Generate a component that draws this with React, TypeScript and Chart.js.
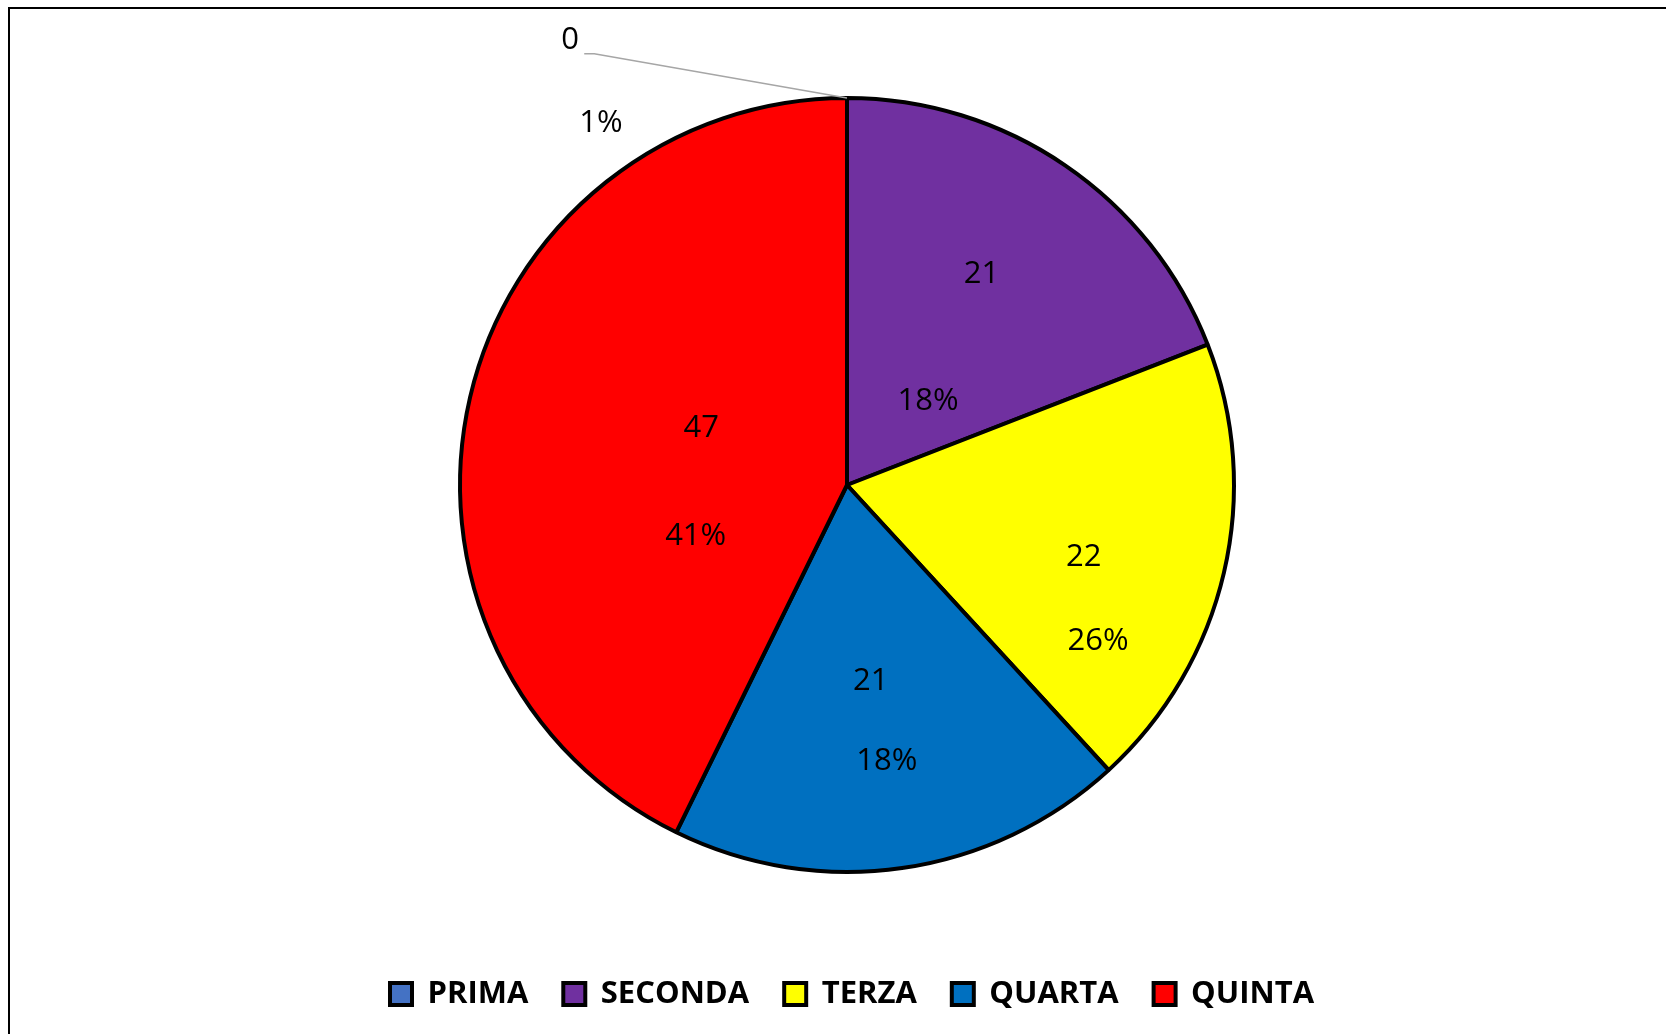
import React, { useEffect, useRef } from "react";
import { Chart, registerables } from "chart.js";

Chart.register(...registerables);

const categories = ["PRIMA", "SECONDA", "TERZA", "QUARTA", "QUINTA"];
// slice sizes as drawn in the picture
const values = [0, 21, 21, 21, 47];
// data label texts as printed on the picture
const valueLabels = ["0", "21", "22", "21", "47"];
const percentLabels = ["1%", "18%", "26%", "18%", "41%"];
const sliceColors = ["#4472C4", "#7030A0", "#FFFF00", "#0070C0", "#FF0000"];

// label placement: [angle offset in degrees from the slice middle, fraction of radius]
const valuePlacement = [
  [-31.7, 1.361],
  [-2.16, 0.652],
  [3.11, 0.637],
  [1.2, 0.503],
  [9.21, 0.407],
];
const percentPlacement = [
  [-34, 1.137],
  [8.64, 0.307],
  [18.31, 0.76],
  [-0.1, 0.714],
  [-30.59, 0.41],
];

const LABEL_FONT = '31px "Open Sans"';
const LABEL_DY = 3;
const LEGEND_SHIFT_X = 5;

const sliceLabelPlugin = {
  id: "sliceLabels",
  afterLayout(chart: any) {
    if (chart.legend) {
      chart.legend.left += LEGEND_SHIFT_X;
      chart.legend.right += LEGEND_SHIFT_X;
    }
  },
  afterDatasetsDraw(chart: any) {
    const ctx = chart.ctx;
    const meta = chart.getDatasetMeta(0);
    ctx.save();
    ctx.font = LABEL_FONT;
    ctx.fillStyle = "#000";
    ctx.textAlign = "center";
    ctx.textBaseline = "middle";
    meta.data.forEach((arc: any, i: number) => {
      const p = arc.getProps(["x", "y", "startAngle", "endAngle", "outerRadius"], true);
      const mid = (p.startAngle + p.endAngle) / 2;
      const pos = (pl: number[]) => {
        const a = mid + (pl[0] * Math.PI) / 180;
        const r = pl[1] * p.outerRadius;
        return [p.x + r * Math.cos(a), p.y + r * Math.sin(a)];
      };
      const [vx, vy] = pos(valuePlacement[i]);
      const [px, py] = pos(percentPlacement[i]);
      if (values[i] === 0) {
        ctx.save();
        ctx.strokeStyle = "#A6A6A6";
        ctx.lineWidth = 1.5;
        ctx.beginPath();
        ctx.moveTo(vx + 14, vy + 17);
        ctx.lineTo(vx + 24, vy + 17);
        ctx.lineTo(p.x + p.outerRadius * Math.cos(mid), p.y + p.outerRadius * Math.sin(mid));
        ctx.stroke();
        ctx.restore();
      }
      ctx.fillText(valueLabels[i], vx, vy + LABEL_DY);
      ctx.fillText(percentLabels[i], px, py + LABEL_DY);
    });
    ctx.restore();
  },
};

export default function App() {
  const canvasRef = useRef<HTMLCanvasElement | null>(null);

  useEffect(() => {
    if (!canvasRef.current) return;
    const chart = new Chart(canvasRef.current, {
      type: "pie",
      data: {
        labels: categories,
        datasets: [
          {
            data: values,
            backgroundColor: sliceColors,
            borderColor: "#000000",
            borderWidth: 4,
          },
        ],
      },
      options: {
        animation: false,
        responsive: false,
        devicePixelRatio: 1,
        radius: 387,
        layout: { padding: { top: 97, left: 28, right: 0, bottom: 14.5 } },
        plugins: {
          tooltip: { enabled: false },
          legend: {
            position: "bottom",
            title: { display: true, text: "", font: { size: 10 }, padding: { top: 58.5, bottom: 0 } },
            labels: {
              boxWidth: 22,
              boxHeight: 22,
              padding: 35,
              color: "#000",
              font: { family: '"Open Sans"', size: 31, weight: "bold" },
            },
          },
        },
      } as any,
      plugins: [sliceLabelPlugin],
    });
    return () => chart.destroy();
  }, []);

  return (
    <div
      style={{
        position: "fixed",
        left: 0,
        top: 0,
        width: 1666,
        height: 1034,
        overflow: "hidden",
        background: "#fff",
      }}
    >
      <canvas
        ref={canvasRef}
        width={1666}
        height={1034}
        style={{ position: "absolute", left: 0, top: 0, width: 1666, height: 1034 }}
      />
      <div
        style={{
          position: "absolute",
          left: 8,
          top: 7,
          width: 1700,
          height: 1100,
          borderTop: "2px solid #000",
          borderLeft: "2px solid #000",
          pointerEvents: "none",
        }}
      />
    </div>
  );
}
